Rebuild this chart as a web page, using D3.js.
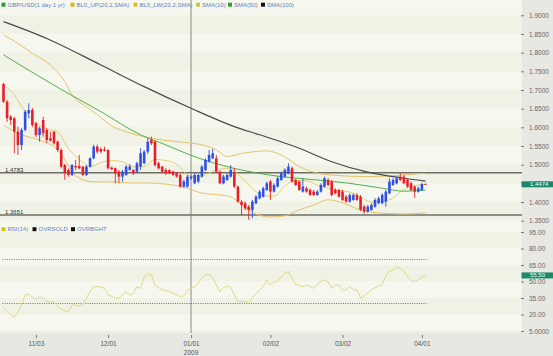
<!DOCTYPE html>
<html><head><meta charset="utf-8">
<script src="https://cdn.jsdelivr.net/npm/d3@7"></script>
<style>html,body{margin:0;padding:0;background:#fff;}svg{display:block;font-family:"Liberation Sans",Arial,sans-serif;}</style>
</head><body><svg id="c" width="553" height="356"></svg>
<script>
// ---------- DATA ----------
// trading days (weekdays) from 2008-10-21 to 2009-04-02
const dates = d3.timeDay.range(new Date(2008,9,21), new Date(2009,3,3))
  .filter(d => d.getDay() % 6 !== 0).map(d3.timeFormat("%Y-%m-%d"));

const open  = [1.7161,1.6687,1.6286,1.6243,1.5884,1.5528,1.5930,1.6376,1.6465,1.6108,1.5796,1.6197,1.5930,1.5707,1.5884,1.5616,1.5394,1.4992,1.4859,1.4725,1.4965,1.4965,1.4947,1.4725,1.4947,1.5172,1.5483,1.5421,1.5412,1.5394,1.4920,1.4904,1.4814,1.4680,1.4725,1.4859,1.4859,1.4814,1.4947,1.5038,1.5349,1.5662,1.5616,1.5038,1.4947,1.4859,1.4850,1.4814,1.4770,1.4725,1.4413,1.4413,1.4636,1.4502,1.4547,1.4680,1.4859,1.5082,1.5172,1.5172,1.4814,1.4502,1.4591,1.4680,1.4770,1.4413,1.4010,1.3967,1.3876,1.3788,1.3967,1.4099,1.4144,1.4324,1.4547,1.4279,1.4413,1.4591,1.4680,1.4770,1.4904,1.4591,1.4547,1.4279,1.4368,1.4324,1.4279,1.4190,1.4279,1.4413,1.4591,1.4547,1.4324,1.4324,1.4279,1.4144,1.4010,1.4056,1.4190,1.4144,1.3877,1.3743,1.3788,1.3877,1.3967,1.3967,1.4010,1.4235,1.4457,1.4502,1.4680,1.4680,1.4591,1.4502,1.4413,1.4279,1.4324,1.4480];
const high  = [1.7188,1.6733,1.6331,1.6286,1.6018,1.5975,1.6465,1.6644,1.6519,1.6144,1.6018,1.6286,1.5975,1.5884,1.5894,1.5643,1.5439,1.5019,1.4904,1.5019,1.5127,1.5260,1.4965,1.4992,1.5199,1.5537,1.5537,1.5465,1.5483,1.5412,1.4947,1.4920,1.4859,1.4859,1.4992,1.5019,1.4878,1.5082,1.5439,1.5394,1.5707,1.5750,1.5643,1.5082,1.4965,1.4904,1.4878,1.4841,1.4804,1.4752,1.4600,1.4725,1.4725,1.4770,1.4752,1.4992,1.5172,1.5394,1.5421,1.5260,1.4841,1.4725,1.4770,1.4992,1.4904,1.4440,1.4056,1.4019,1.3922,1.4056,1.4190,1.4324,1.4413,1.4547,1.4591,1.4502,1.4680,1.4814,1.4904,1.5038,1.4947,1.4618,1.4574,1.4636,1.4413,1.4368,1.4324,1.4324,1.4502,1.4680,1.4636,1.4591,1.4368,1.4350,1.4324,1.4190,1.4235,1.4235,1.4235,1.4190,1.3922,1.3922,1.3967,1.4099,1.4144,1.4235,1.4324,1.4636,1.4636,1.4680,1.4770,1.4725,1.4636,1.4547,1.4440,1.4413,1.4520,1.4500];
const low   = [1.6652,1.6144,1.6063,1.5306,1.5260,1.5394,1.5894,1.6243,1.6010,1.5742,1.5616,1.5750,1.5582,1.5616,1.5537,1.5349,1.4902,1.4591,1.4680,1.4699,1.4859,1.4878,1.4699,1.4699,1.4920,1.5145,1.5296,1.5306,1.5349,1.4876,1.4859,1.4502,1.4502,1.4547,1.4699,1.4841,1.4725,1.4770,1.4859,1.5010,1.5287,1.5528,1.4947,1.4878,1.4770,1.4725,1.4745,1.4699,1.4654,1.4386,1.4380,1.4386,1.4591,1.4475,1.4502,1.4654,1.4832,1.5055,1.5145,1.4770,1.4475,1.4475,1.4565,1.4654,1.4369,1.3983,1.3654,1.3779,1.3520,1.3565,1.3940,1.4072,1.4117,1.4297,1.4056,1.4252,1.4386,1.4565,1.4654,1.4743,1.4520,1.4430,1.4297,1.4252,1.4252,1.4163,1.4163,1.4163,1.4252,1.4386,1.4430,1.4163,1.4208,1.4117,1.4029,1.3983,1.3983,1.4029,1.4029,1.3761,1.3690,1.3716,1.3761,1.3850,1.3940,1.3940,1.3877,1.4208,1.4430,1.4475,1.4565,1.4475,1.4386,1.4297,1.4110,1.4252,1.4297,1.4465];
const close = [1.6687,1.6243,1.6197,1.5884,1.5528,1.5930,1.6420,1.6465,1.6063,1.5796,1.5975,1.5841,1.5662,1.5643,1.5573,1.5394,1.4947,1.4770,1.4725,1.4992,1.4931,1.4904,1.4725,1.4947,1.5172,1.5483,1.5349,1.5349,1.5376,1.4904,1.4878,1.4770,1.4680,1.4814,1.4947,1.4947,1.4770,1.5038,1.5306,1.5349,1.5616,1.5573,1.4992,1.4904,1.4814,1.4770,1.4770,1.4725,1.4680,1.4413,1.4550,1.4680,1.4680,1.4725,1.4725,1.4947,1.5127,1.5260,1.5306,1.4814,1.4502,1.4680,1.4725,1.4859,1.4413,1.4010,1.3921,1.3833,1.3788,1.4010,1.4144,1.4278,1.4368,1.4502,1.4279,1.4457,1.4636,1.4770,1.4859,1.4947,1.4547,1.4457,1.4324,1.4413,1.4279,1.4190,1.4190,1.4279,1.4457,1.4636,1.4457,1.4190,1.4235,1.4144,1.4056,1.4010,1.4190,1.4190,1.4056,1.3788,1.3743,1.3877,1.3922,1.4056,1.4099,1.4190,1.4279,1.4547,1.4591,1.4636,1.4591,1.4502,1.4413,1.4324,1.4279,1.4368,1.4480,1.4474];

// indicator lines: [day index, value]
const sma100 = [[0,1.883],[12,1.838],[27,1.767],[39,1.709],[52,1.651],[64,1.602],[71,1.580],[82,1.544],[91,1.508],[101,1.480],[110,1.465],[117,1.456]];
const sma50  = [[0,1.794],[17,1.696],[27,1.642],[38,1.580],[45,1.553],[52,1.525],[64,1.490],[77,1.468],[87,1.459],[96,1.450],[105,1.437],[111,1.429],[117,1.432]];
const sma10  = [[0,1.713],[3,1.687],[6,1.642],[9,1.612],[12,1.596],[15,1.588],[18,1.543],[21,1.515],[24,1.495],[27,1.506],[30,1.511],[33,1.508],[36,1.494],[39,1.495],[42,1.514],[45,1.511],[48,1.502],[51,1.473],[54,1.467],[57,1.478],[60,1.488],[63,1.490],[66,1.465],[69,1.437],[72,1.416],[75,1.416],[78,1.443],[81,1.458],[84,1.457],[87,1.445],[90,1.437],[93,1.431],[96,1.427],[99,1.413],[102,1.400],[105,1.401],[108,1.411],[111,1.434],[114,1.444],[117,1.447]];
const bbUp   = [[0,1.847],[4,1.825],[8,1.798],[13,1.767],[17,1.722],[19,1.687],[23,1.655],[26,1.634],[30,1.604],[34,1.588],[39,1.575],[44,1.566],[50,1.560],[55,1.553],[59,1.540],[62,1.522],[66,1.530],[73,1.537],[78,1.521],[82,1.495],[91,1.472],[101,1.468],[110,1.472],[117,1.477]];
const bbLow  = [[0,1.606],[5,1.580],[10,1.566],[15,1.539],[18,1.499],[20,1.470],[25,1.454],[30,1.454],[35,1.451],[40,1.451],[45,1.448],[50,1.440],[55,1.424],[60,1.419],[63,1.414],[66,1.392],[70,1.368],[74,1.360],[78,1.363],[82,1.379],[86,1.392],[90,1.406],[94,1.398],[98,1.382],[102,1.373],[107,1.369],[111,1.368],[117,1.371]];

const rsi = [27.1,22.5,20,17.5,22,28.6,37.7,38.5,35.5,33.5,36,34.7,31.7,31.5,31,27.5,25,23.5,22.6,28.6,28.6,27.5,29,34.7,41,45.3,45.3,45,43.8,37.7,36.5,35,34.7,38,40.8,37.7,39.2,45.3,43.8,54,57.4,55.9,46.8,44.5,42.5,42,40.8,39.5,38,36.2,37,42,43.8,45.5,48.5,52.9,56.5,56.5,54,46.8,40.8,44.5,46,44.5,38,31.7,31.7,31.7,30.2,35.5,39,42.3,45.5,51,46.8,49.8,49.8,54,57.5,59,52.9,47.5,46,45.5,46.8,45.3,43.8,47.5,50,51.4,49.8,43.8,46.5,46.8,42,42.5,45.3,42.3,42.3,35,37,39.5,42.3,44.5,46,47,55,59.5,60.5,63,62,59,55,51,49.8,51.4,54.5,55.5];
const rsiOverbought = 70, rsiOversold = 30;

const refLevels = [1.4783, 1.3651];
const lastPrice = 1.4474, lastRsi = 55.50;

const priceTicks = [1.35,1.40,1.45,1.50,1.55,1.60,1.65,1.70,1.75,1.80,1.85,1.90];
const rsiTicks = [5,20,35,50,65,80,95];
const rsiTickLabels = ["5.0000","20.00","35.00","50.00","65.00","80.00","95.00"];
const dateTicks = ["2008-11-03","2008-12-01","2009-01-01","2009-02-02","2009-03-02","2009-04-01"];
const dateTickLabels = ["11/03","12/01","01/01","02/02","03/02","04/01"];

const legendTop = [["GBP/USD(1 day  1 yr)","#2aa02a"],["BL0_UP(20,2,SMA)","#e2b21a"],["BL0_LW(20,2,SMA)","#d8c21e"],["SMA(10)","#c8c830"],["SMA(50)","#2e9e2e"],["SMA(100)","#111"]];
const legendRsi = [["RSI(14)","#d8c21e"],["OVRSOLD","#111"],["OVRBGHT","#111"]];

// ---------- LAYOUT ----------
const W=553,H=356, PR=522, PB=333, paneSplit=226;
const svg = d3.select("#c");
const x = d3.scalePoint().domain(dates).range([3.5, 425.5]);
const y = d3.scaleLinear().domain([1.35,1.90]).range([220.7,15.3]);
const yr = d3.scaleLinear().domain([5,95]).range([331,232]);

svg.append("rect").attr("width",W).attr("height",H).attr("fill","#e8e8e3");
svg.append("rect").attr("width",PR).attr("height",PB).attr("fill","#f5f7ed");

const defs = svg.append("defs");
defs.append("clipPath").attr("id","clipP").append("rect").attr("x",0).attr("y",0).attr("width",PR).attr("height",paneSplit);
defs.append("clipPath").attr("id","clipR").append("rect").attr("x",0).attr("y",paneSplit).attr("width",PR).attr("height",PB-paneSplit);

// stripes
function stripes(edges){
  const g = svg.append("g");
  for(let k=0;k<edges.length-1;k++){
    g.append("rect").attr("x",0).attr("width",PR)
      .attr("y",edges[k]).attr("height",Math.max(0,edges[k+1]-edges[k]))
      .attr("fill", k%2===0 ? "#f6f8f0" : "#eff2e5");
  }
}
stripes([0, ...priceTicks.slice().reverse().map(y), paneSplit]);
stripes([paneSplit, ...rsiTicks.slice().reverse().map(yr), PB]);

// vertical year line
svg.append("line").attr("x1",x("2009-01-01")).attr("x2",x("2009-01-01"))
  .attr("y1",0).attr("y2",PB).attr("stroke","#a9aaa2").attr("stroke-width",1.4);

// reference levels
const refG = svg.append("g");
refG.selectAll("line").data(refLevels).join("line")
  .attr("x1",0).attr("x2",PR).attr("y1",d=>y(d)).attr("y2",d=>y(d))
  .attr("stroke","#6e6e66").attr("stroke-width",1.5);
refG.selectAll("text").data(refLevels).join("text")
  .attr("x",5).attr("y",d=>y(d)-0.8).attr("font-size",6).attr("fill","#333")
  .text(d=>d.toFixed(4));

// indicator lines
const pg = svg.append("g").attr("clip-path","url(#clipP)");
const line = d3.line().x(d=>x(dates[d[0]])).y(d=>y(d[1])).curve(d3.curveMonotoneX);
[[bbUp,"#e6c26c",1],[bbLow,"#e6c26c",1],[sma10,"#e2cf74",1],[sma50,"#55ad50",1],[sma100,"#4a4a46",1.2]]
  .forEach(([d,c,w])=> pg.append("path").datum(d).attr("d",line).attr("fill","none").attr("stroke",c).attr("stroke-width",w));

// candles
const idx = d3.range(dates.length);
const col = i => close[i] >= open[i] ? "#2f4fe6" : "#e6202a";
pg.append("g").selectAll("line").data(idx).join("line")
  .attr("x1",i=>x(dates[i])).attr("x2",i=>x(dates[i]))
  .attr("y1",i=>y(high[i])).attr("y2",i=>y(low[i]))
  .attr("stroke",col).attr("stroke-width",0.9);
const cw = 2.6;
pg.append("g").selectAll("rect").data(idx).join("rect")
  .attr("x",i=>x(dates[i])-cw/2).attr("width",cw)
  .attr("y",i=>y(Math.max(open[i],close[i])))
  .attr("height",i=>Math.max(0.8, Math.abs(y(open[i])-y(close[i]))))
  .attr("fill",col);

// RSI
const rg = svg.append("g").attr("clip-path","url(#clipR)");
[rsiOverbought, rsiOversold].forEach(v=>{
  rg.append("line").attr("x1",x(dates[0])-1).attr("x2",x(dates[dates.length-1])+1)
    .attr("y1",yr(v)).attr("y2",yr(v)).attr("stroke","#55554f").attr("stroke-width",0.8)
    .attr("stroke-dasharray","1,1.3");
});
rg.append("path").datum(rsi)
  .attr("d", d3.line().x((d,i)=>x(dates[i])).y(d=>yr(d)))
  .attr("fill","none").attr("stroke","#e4d585").attr("stroke-width",1);

// right axes
const axP = svg.append("g").attr("transform",`translate(${PR-1},0)`)
  .call(d3.axisRight(y).tickValues(priceTicks).tickFormat(d3.format(".4f")).tickSize(3).tickPadding(5));
const axR = svg.append("g").attr("transform",`translate(${PR-1},0)`)
  .call(d3.axisRight(yr).tickValues(rsiTicks).tickFormat((d,i)=>rsiTickLabels[i]).tickSize(3).tickPadding(5));
[axP,axR].forEach(a=>{
  a.select(".domain").remove();
  a.selectAll("line").attr("stroke","#777");
  a.selectAll("text").attr("font-size",6.5).attr("fill","#666").attr("font-family","Liberation Sans, Arial, sans-serif");
});

// value boxes
function valBox(yy, txt){
  svg.append("rect").attr("x",PR-0.5).attr("y",yy-3).attr("width",W-PR+0.5).attr("height",6).attr("fill","#1b8a6c");
  svg.append("text").attr("x",PR+8).attr("y",yy).attr("dy","0.33em").attr("font-size",6)
    .attr("fill","#e8fff4").text(txt);
}
valBox(y(lastPrice), lastPrice.toFixed(4));
valBox(yr(lastRsi), lastRsi.toFixed(2));

// bottom axis
const axX = svg.append("g").attr("transform",`translate(0,${PB+2})`)
  .call(d3.axisBottom(x).tickValues(dateTicks).tickFormat((d,i)=>dateTickLabels[i]).tickSize(3).tickPadding(3));
axX.select(".domain").remove();
axX.selectAll("line").attr("stroke","#777");
axX.selectAll("text").attr("font-size",6.5).attr("fill","#555").attr("font-family","Liberation Sans, Arial, sans-serif");
svg.append("text").attr("x",x("2009-01-01")).attr("y",355).attr("text-anchor","middle")
  .attr("font-size",6.5).attr("fill","#555").text("2009");

// legends
function legend(items, yy, starts){
  const g = svg.append("g");
  items.forEach(([t,c],i)=>{
    g.append("rect").attr("x",starts[i]).attr("y",yy-2.3).attr("width",4).attr("height",4).attr("fill",c);
    g.append("text").attr("x",starts[i]+6).attr("y",yy).attr("dy","0.33em").attr("font-size",6)
      .attr("fill","#5f7cc6").text(t);
  });
}
legend(legendTop, 5, [1.5,70.5,133.5,196,228,261]);
legend(legendRsi, 229.5, [1.5,32.5,71]);
</script></body></html>
